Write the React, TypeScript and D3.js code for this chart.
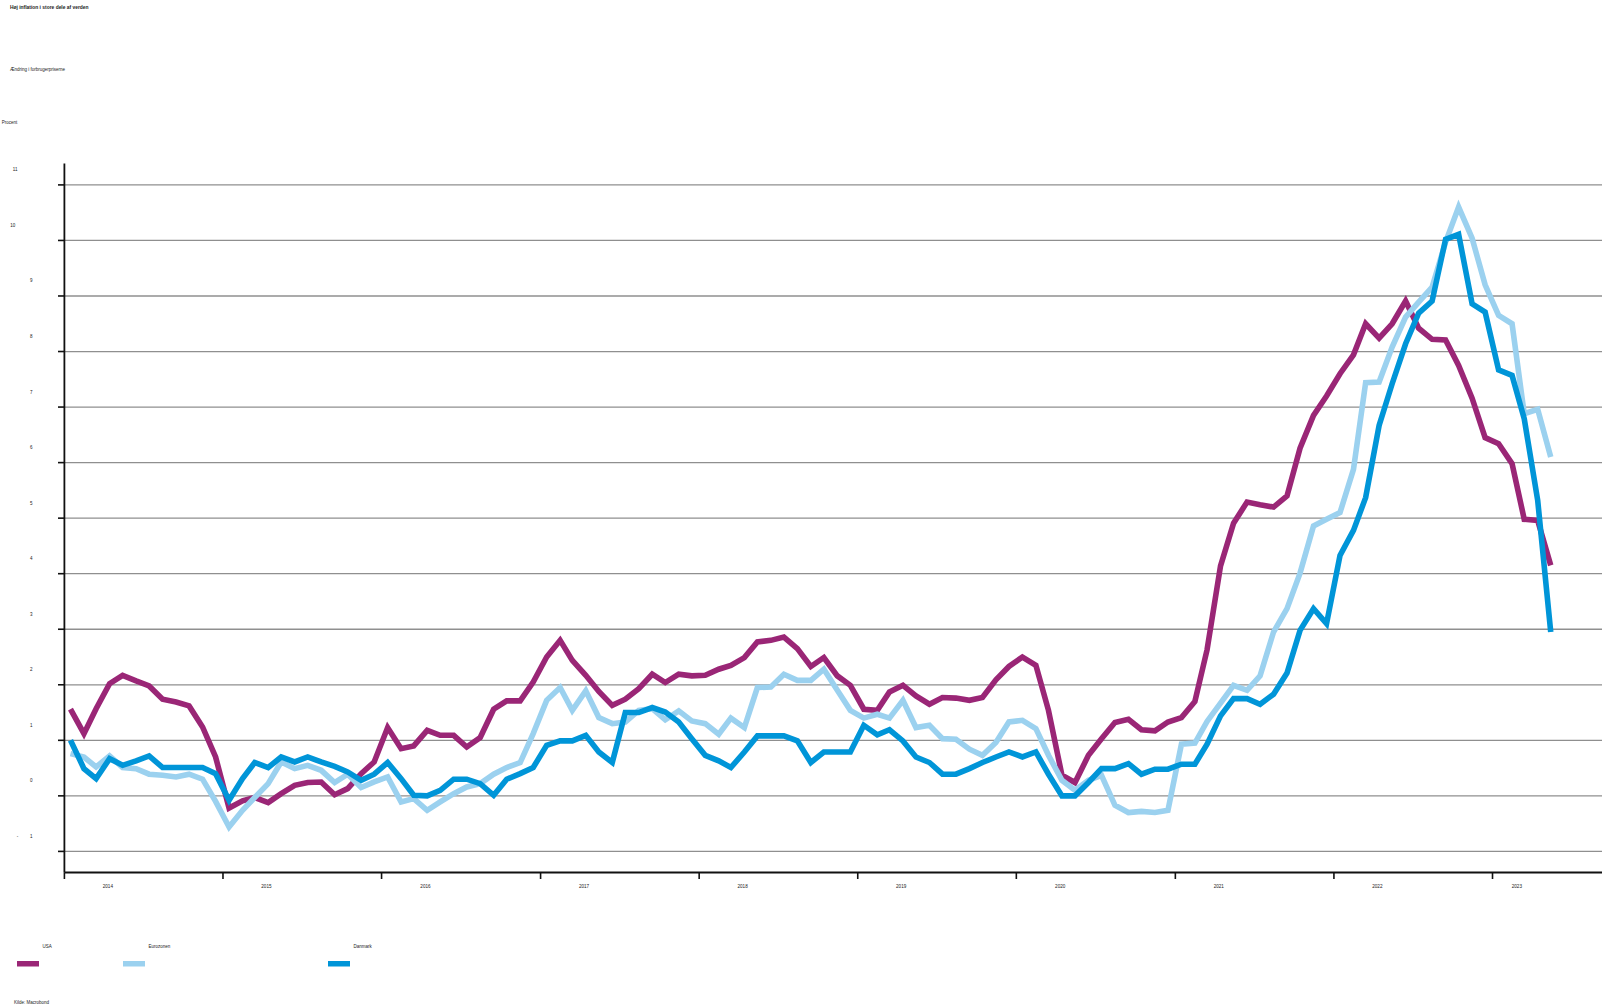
import React from "react";
import * as d3 from "d3";

const seriesNames = ["USA", "Eurozonen", "Danmark"];
const seriesColors = ["#9a2676", "#9bd1ef", "#0095d8"];

// Monthly values, Jan 2014 - May 2023
const usa = [
  1.56, 1.12, 1.57, 2.02, 2.17, 2.07, 1.98, 1.74, 1.69, 1.62, 1.24, 0.70,
  -0.22, -0.09, -0.03, -0.12, 0.04, 0.19, 0.24, 0.25, 0.02, 0.13, 0.40, 0.61,
  1.23, 0.85, 0.90, 1.18, 1.09, 1.09, 0.88, 1.05, 1.56, 1.71, 1.71, 2.05,
  2.50, 2.80, 2.44, 2.17, 1.88, 1.63, 1.74, 1.93, 2.19, 2.04, 2.19, 2.16,
  2.17, 2.28, 2.35, 2.49, 2.77, 2.80, 2.86, 2.65, 2.33, 2.49, 2.16, 1.99,
  1.56, 1.54, 1.87, 1.99, 1.80, 1.65, 1.77, 1.76, 1.72, 1.77, 2.09, 2.33,
  2.50, 2.35, 1.54, 0.37, 0.24, 0.73, 1.03, 1.32, 1.38, 1.19, 1.17, 1.33,
  1.41, 1.70, 2.63, 4.14, 4.91, 5.29, 5.24, 5.20, 5.40, 6.26, 6.85, 7.20,
  7.60, 7.94, 8.50, 8.24, 8.50, 8.91, 8.42, 8.22, 8.21, 7.75, 7.16, 6.45,
  6.34, 5.98, 4.98, 4.96, 4.15,
];
const eurozone = [
  0.76, 0.70, 0.52, 0.72, 0.51, 0.49, 0.39, 0.37, 0.34, 0.39, 0.30, -0.10,
  -0.56, -0.26, -0.03, 0.22, 0.61, 0.49, 0.55, 0.46, 0.24, 0.39, 0.15, 0.25,
  0.34, -0.11, -0.05, -0.26, -0.11, 0.04, 0.16, 0.22, 0.39, 0.51, 0.60, 1.12,
  1.72, 1.95, 1.54, 1.89, 1.41, 1.30, 1.33, 1.54, 1.57, 1.37, 1.53, 1.35,
  1.30, 1.11, 1.40, 1.23, 1.95, 1.96, 2.19, 2.08, 2.08, 2.28, 1.90, 1.54,
  1.40, 1.47, 1.40, 1.72, 1.23, 1.27, 1.03, 1.02, 0.84, 0.73, 0.96, 1.33,
  1.36, 1.21, 0.73, 0.28, 0.10, 0.28, 0.37, -0.17, -0.30, -0.28, -0.30, -0.26,
  0.93, 0.95, 1.34, 1.67, 1.99, 1.90, 2.16, 2.95, 3.37, 4.01, 4.86, 4.98,
  5.10, 5.88, 7.44, 7.45, 8.08, 8.62, 8.89, 9.16, 9.97, 10.6, 10.04, 9.20,
  8.65, 8.50, 6.88, 6.96, 6.10,
];
const denmark = [
  1.00, 0.49, 0.31, 0.67, 0.55, 0.63, 0.72, 0.51, 0.51, 0.51, 0.51, 0.40,
  -0.08, 0.31, 0.60, 0.51, 0.70, 0.61, 0.70, 0.61, 0.53, 0.43, 0.28, 0.39,
  0.60, 0.31, 0.01, 0.00, 0.10, 0.30, 0.30, 0.22, 0.01, 0.30, 0.40, 0.51,
  0.91, 0.99, 0.99, 1.09, 0.79, 0.60, 1.50, 1.50, 1.59, 1.51, 1.33, 1.03,
  0.73, 0.63, 0.51, 0.79, 1.08, 1.08, 1.08, 0.99, 0.60, 0.79, 0.79, 0.79,
  1.27, 1.10, 1.19, 0.99, 0.70, 0.60, 0.39, 0.39, 0.49, 0.60, 0.70, 0.79,
  0.70, 0.79, 0.39, 0.00, 0.00, 0.24, 0.49, 0.49, 0.58, 0.39, 0.48, 0.48,
  0.57, 0.57, 0.93, 1.44, 1.75, 1.75, 1.65, 1.83, 2.21, 2.98, 3.37, 3.10,
  4.33, 4.78, 5.37, 6.67, 7.42, 8.14, 8.69, 8.91, 10.02, 10.11, 8.86, 8.71,
  7.67, 7.57, 6.79, 5.32, 2.95,
];
const allSeries = [usa, eurozone, denmark];

const yTicks = [-1, 0, 1, 2, 3, 4, 5, 6, 7, 8, 9, 10, 11];
const xYears = [2014, 2015, 2016, 2017, 2018, 2019, 2020, 2021, 2022, 2023];

const title = "Høj inflation i store dele af verden";
const subtitle = "Ændring i forbrugerpriserne";
const unitLabel = "Procent";
const sourceLabel = "Kilde: Macrobond";

const W = 1602;
const H = 1004;
const FONT = "'Liberation Sans', Arial, sans-serif";

export default function App() {
  const left = 64.4;
  const x = d3
    .scaleTime()
    .domain([new Date(2014, 0, 1), new Date(2023, 8, 10)])
    .range([left, W]);
  const y = d3.scaleLinear().domain([-1, 11]).range([851.4, 184.9]);
  const axisY = 872.5;
  const axisTop = 163.5;

  const dateOf = (i: number) => new Date(2014, i, 15);
  const line = d3
    .line<number>()
    .x((_, i) => x(dateOf(i)))
    .y((v) => y(v));

  const lastDate = dateOf(usa.length - 1);

  const legendItems = seriesNames.map((n, k) => ({
    name: n,
    color: seriesColors[k],
    sx: [17, 123, 328][k],
  }));

  const txt = "#222";

  return (
    <svg
      width={W}
      height={H}
      style={{ position: "absolute", left: 0, top: 0, background: "#fff" }}
      fontFamily={FONT}
    >
      <rect x={0} y={0} width={W} height={H} fill="#fff" />
      <text x={10} y={8.5} fontSize={4.9} fontWeight="bold" fill={txt}>
        {title}
      </text>
      <text x={10} y={70.5} fontSize={4.5} fill={txt}>
        {subtitle}
      </text>
      <text x={1.7} y={123.8} fontSize={4.5} fill={txt}>
        {unitLabel}
      </text>

      {/* gridlines */}
      {yTicks.map((t) => (
        <g key={"g" + t}>
          <line x1={left} x2={W} y1={y(t)} y2={y(t)} stroke="#8f8f8f" strokeWidth={1.3} />
          <line x1={58} x2={left} y1={y(t)} y2={y(t)} stroke="#111" strokeWidth={1.6} />
        </g>
      ))}

      {/* y labels */}
      {yTicks.map((t) => {
        const ly = y(t) - 15 + 1.5;
        if (t === 11)
          return (
            <text key={"l" + t} x={17.5} y={ly} fontSize={4.5} textAnchor="end" fill={txt}>
              11
            </text>
          );
        if (t === 10)
          return (
            <text key={"l" + t} x={15.2} y={ly} fontSize={4.5} textAnchor="end" fill={txt}>
              10
            </text>
          );
        if (t === -1)
          return (
            <text key={"l" + t} y={ly} fontSize={4.5} fill={txt}>
              <tspan x={16.8}>-</tspan>
              <tspan x={30}>1</tspan>
            </text>
          );
        return (
          <text key={"l" + t} x={32.5} y={ly} fontSize={4.5} textAnchor="end" fill={txt}>
            {t}
          </text>
        );
      })}

      {/* axes */}
      <line x1={left} x2={left} y1={axisTop} y2={axisY} stroke="#111" strokeWidth={1.8} />
      <line x1={left} x2={W} y1={axisY} y2={axisY} stroke="#111" strokeWidth={1.8} />
      {xYears.map((yr) => {
        const tx = x(new Date(yr, 0, 1));
        const labelDate =
          new Date(yr + 1, 0, 1) > lastDate ? new Date(yr, 1, 26) : new Date(yr, 3, 11);
        return (
          <g key={"x" + yr}>
            <line x1={tx} x2={tx} y1={axisY} y2={axisY + 6.5} stroke="#111" strokeWidth={1.6} />
            <text x={x(labelDate)} y={887.5} fontSize={4.6} textAnchor="middle" fill={txt}>
              {yr}
            </text>
          </g>
        );
      })}

      {/* series */}
      {allSeries.map((s, k) => (
        <path
          key={"s" + k}
          d={line(s) || ""}
          fill="none"
          stroke={seriesColors[k]}
          strokeWidth={5.6}
          strokeLinejoin="miter"
          strokeMiterlimit={3}
        />
      ))}

      {/* legend */}
      {legendItems.map((it) => (
        <g key={"lg" + it.name}>
          <text x={it.sx + 25.5} y={947.5} fontSize={4.5} fill={txt}>
            {it.name}
          </text>
          <rect x={it.sx} y={961} width={22} height={5.5} fill={it.color} />
        </g>
      ))}

      <text x={14} y={1003.5} fontSize={4.5} fill={txt}>
        {sourceLabel}
      </text>
    </svg>
  );
}
